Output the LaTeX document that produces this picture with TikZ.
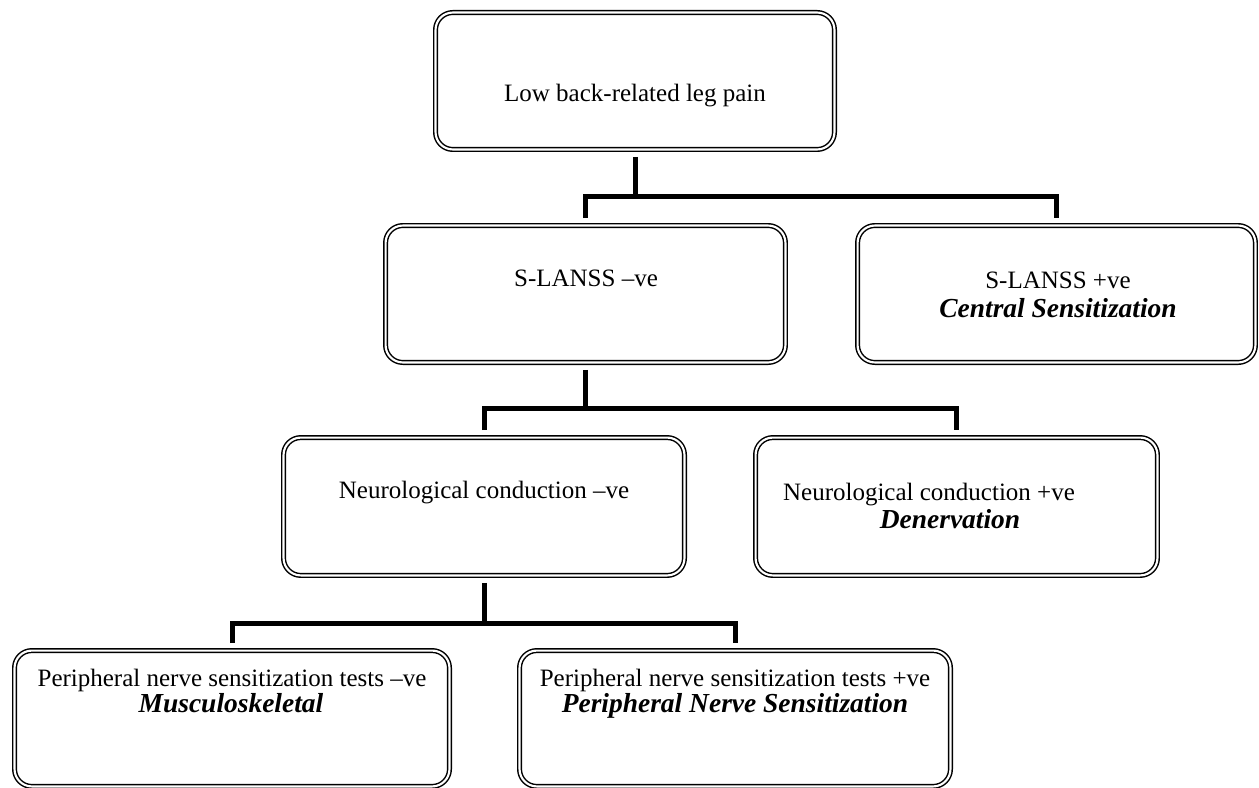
\documentclass[tikz,border=0pt]{standalone}
\usepackage{fontspec}
\setmainfont{Liberation Serif}
\begin{document}
\begin{tikzpicture}[x=0.75pt,y=-0.75pt,
  box/.style={draw=black, line width=1.1pt, double=white, double distance=1.6pt,
    rounded corners=13pt, inner sep=0pt, outer sep=0pt},
  conn/.style={draw=black, line width=3.75pt, line join=miter, line cap=butt},
  txt/.style={anchor=base, inner sep=0pt, font=\fontsize{18.75pt}{22pt}\selectfont},
  emph/.style={anchor=base, inner sep=0pt, font=\fontsize{20.6pt}{24pt}\selectfont\bfseries\itshape}]
\useasboundingbox (0,0) rectangle (1259,788);
\clip (0,0) rectangle (1259,788);
\fill[white] (0,0) rectangle (1259,788);
% boxes
\node[box, minimum width=299.2pt, minimum height=102.7pt] (top) at (635,81) {};
\node[box, minimum width=299.9pt, minimum height=102.7pt] (sneg) at (585.5,294) {};
\node[box, minimum width=298.4pt, minimum height=102.7pt] (spos) at (1056.5,294) {};
\node[box, minimum width=300.7pt, minimum height=103.4pt] (nneg) at (484,506.5) {};
\node[box, minimum width=301.4pt, minimum height=103.4pt] (npos) at (956.5,506.5) {};
\node[box, minimum width=326.2pt, minimum height=101.9pt] (pneg) at (232,718.5) {};
\node[box, minimum width=323.2pt, minimum height=101.9pt] (ppos) at (735,718.5) {};
% texts
\node[txt] (ttop) at (635,102) {Low back-related leg pain};
\node[txt] (tsneg) at (586,286) {S-LANSS –ve};
\node[txt] (tspos) at (1058,288) {S-LANSS +ve};
\node[emph] (tspos2) at (1058,317) {Central Sensitization};
\node[txt] (tnneg) at (484,498) {Neurological conduction –ve};
\node[txt] (tnpos) at (929,500) {Neurological conduction +ve};
\node[emph] (tnpos2) at (950,528) {Denervation};
\node[txt] (tpneg) at (232,686) {Peripheral nerve sensitization tests –ve};
\node[emph] (tpneg2) at (231,712) {Musculoskeletal};
\node[txt] (tppos) at (735,686) {Peripheral nerve sensitization tests +ve};
\node[emph] (tppos2) at (735,712) {Peripheral Nerve Sensitization};
% connectors
\coordinate (h1) at (0,196);
\coordinate (h2) at (0,408);
\coordinate (h3) at (0,623);
\draw[conn] ([yshift=-5.6pt]top.south) -- (top.south |- h1);
\draw[conn] ([yshift=5.6pt]sneg.north) |- (h1 -| spos.north) -- ([yshift=5.6pt]spos.north);
\draw[conn] ([yshift=-5.6pt]sneg.south) -- (sneg.south |- h2);
\draw[conn] ([yshift=5.6pt]nneg.north) |- (h2 -| npos.north) -- ([yshift=5.6pt]npos.north);
\draw[conn] ([yshift=-5.6pt]nneg.south) -- (nneg.south |- h3);
\draw[conn] ([yshift=5.6pt]pneg.north) |- (h3 -| ppos.north) -- ([yshift=5.6pt]ppos.north);
\end{tikzpicture}
\end{document}
